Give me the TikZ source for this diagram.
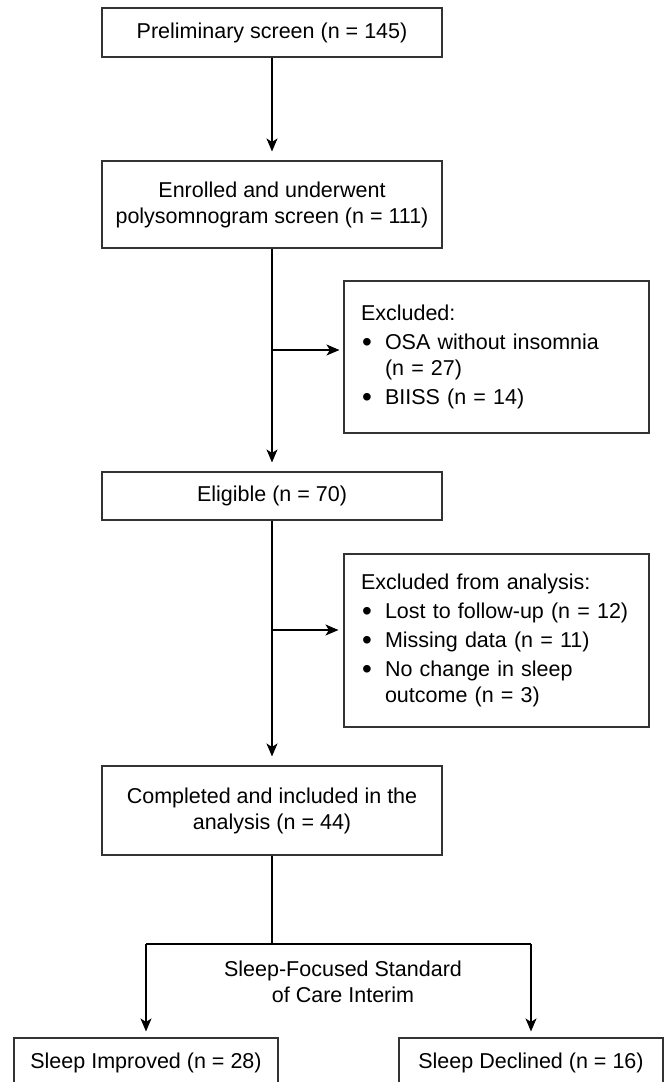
\documentclass[tikz,border=0pt]{standalone}
\usepackage{fontspec}
\setmainfont{Liberation Sans}
\usetikzlibrary{arrows.meta}
\newcommand{\blt}{\makebox[24pt][l]{\hspace{1pt}\raisebox{-0.08em}{\scalebox{1.3}{\textbullet}}}}
\newcommand{\indt}{\hspace*{24pt}}

\begin{document}
\begin{tikzpicture}[x=1pt, y=-1pt,
	every node/.style={font=\fontsize{21.5}{26}\selectfont},
	box/.style={draw=black!80, line width=1.1pt, minimum width=340pt, inner sep=0pt, align=center},
	exbox/.style={draw=black!80, line width=1.1pt, text width=271pt, inner xsep=17pt, inner ysep=0pt, align=left},
	arr/.style={-{Stealth[length=13pt, width=11pt, inset=3.5pt]}, line width=1.1pt, shorten >=9pt}]
	\useasboundingbox (0,0) rectangle (668,1082);
	\clip (0,0) rectangle (668,1082);
	\node[box, minimum height=49pt] (prelim) at (272,32.5) {Preliminary screen (n = 145)};
	\node[box, minimum height=87pt] (enrol) at (272,204.5) {Enrolled and underwent\\polysomnogram screen (n = 111)};
	\node[exbox, minimum height=152pt] (excl1) at (496.5,357) {Excluded:\\[3pt]\blt OSA without insomnia\\\indt(n = 27)\\[3pt]\blt BIISS (n = 14)};
	\node[box, minimum height=48pt] (eligible) at (272,496) {Eligible (n = 70)};
	\node[exbox, minimum height=173pt] (excl2) at (496.5,640.5) {Excluded from analysis:\\[3pt]\blt Lost to follow-up (n = 12)\\[3pt]\blt Missing data (n = 11)\\[3pt]\blt No change in sleep\\\indt outcome (n = 3)};
	\node[box, minimum height=89pt] (complete) at (272,810.5) {Completed and included in the\\analysis (n = 44)};
	\node[align=center] (interim) at (343,982) {Sleep-Focused Standard\\of Care Interim};
	\node[box, minimum width=264pt, minimum height=49pt] (improved) at (146,1062.5) {Sleep Improved (n = 28)};
	\node[box, minimum width=264pt, minimum height=49pt] (declined) at (531,1062.5) {Sleep Declined (n = 16)};
	\coordinate (fork1) at (272,350);
	\coordinate (fork2) at (272,630);
	\coordinate (split) at (272,944);
	\coordinate (lft) at (146,944);
	\coordinate (rgt) at (531,944);
	\draw[arr] (prelim) -- (enrol);
	\draw[arr] (enrol) -- (eligible);
	\draw[arr, shorten >=4pt] (fork1) -- (fork1 -| excl1.west);
	\draw[arr] (eligible) -- (complete);
	\draw[arr, shorten >=5pt] (fork2) -- (fork2 -| excl2.west);
	\draw[line width=1.1pt] (complete) -- (split);
	\draw[line width=1.1pt] (lft) -- (rgt);
	\draw[arr, shorten >=6pt] (lft) -- (improved);
	\draw[arr, shorten >=6pt] (rgt) -- (declined);
\end{tikzpicture}
\end{document}
